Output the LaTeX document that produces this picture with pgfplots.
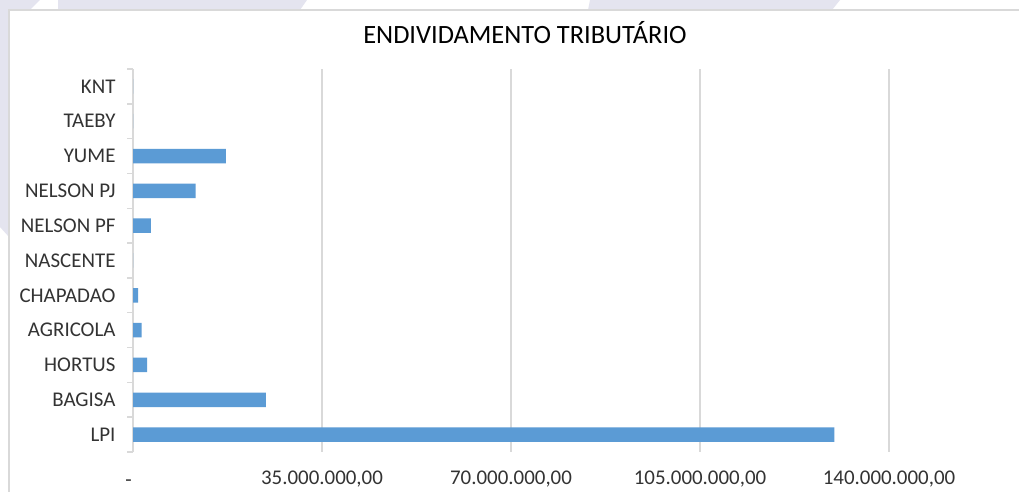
\documentclass[border=0pt]{standalone}
\usepackage{pgfplots}
\pgfplotsset{compat=1.18}
\usepackage{fontspec}
\setmainfont{Carlito}
\definecolor{barblue}{HTML}{5B9BD5}
\definecolor{gridgrey}{HTML}{D9D9D9}
\definecolor{lav}{HTML}{E4E4EF}
\begin{document}
\begin{tikzpicture}[x=1bp,y=1bp]
\useasboundingbox (0,0) rectangle (1019,492);
\clip (0,0) rectangle (1019,492);
% background behind the chart
\fill[white] (0,0) rectangle (1019,492);
\fill[lav] (0,482) -- (0,492) -- (40,492) -- (30,482) -- cycle;
\fill[lav] (58,482) -- (58,492) -- (307,492) -- (300,482) -- cycle;
\fill[lav] (588,482) -- (590,492) -- (840,492) -- (832,482) -- cycle;
\fill[lav] (0,265) -- (0,482) -- (9,482) -- (9,255) -- cycle;
% chart area
\filldraw[fill=white, draw=gridgrey, line width=1.5bp] (9,-5) rectangle (1030,482);
\node[font=\fontsize{26.5}{32}\selectfont, anchor=center] at (525,459) {ENDIVIDAMENTO TRIBUTÁRIO};
\begin{axis}[
    at={(133bp,40bp)}, anchor=south west,
    scale only axis,
    width=756bp, height=383bp,
    xbar, bar width=14.5bp,
    xmin=0, xmax=140000000,
    ymin=-0.5, ymax=10.5,
    xtick={0,35000000,70000000,105000000,140000000},
    xticklabels={{\raisebox{-1.5bp}{-}\kern9bp\mbox{}},{35.000.000,00},{70.000.000,00},{105.000.000,00},{140.000.000,00}},
    scaled x ticks=false,
    ytick={0,...,10},
    yticklabels={LPI,BAGISA,HORTUS,AGRICOLA,CHAPADAO,NASCENTE,NELSON PF,NELSON PJ,YUME,TAEBY,KNT},
    minor ytick={-0.5,0.5,...,10.5},
    major tick length=0pt, minor tick length=6bp,
    tick align=outside, ytick pos=left, xtick pos=bottom,
    minor tick style={gridgrey, line width=1.5bp},
    xmajorgrids, major grid style={gridgrey, line width=1.5bp},
    axis line style={draw=none},
    tick label style={font=\fontsize{21}{25}\selectfont, text=black!80},
    yticklabel style={xshift=-14bp},
    xticklabel style={yshift=-15bp, text height=14bp, text depth=4bp},
    clip=false,
]
\addplot[fill=barblue, draw=none] coordinates {
    (129900000,0)
    (24600000,1)
    (2600000,2)
    (1600000,3)
    (930000,4)
    (0,5)
    (3300000,6)
    (11600000,7)
    (17200000,8)
    (0,9)
    (0,10)
};
\end{axis}
\end{tikzpicture}
\end{document}
